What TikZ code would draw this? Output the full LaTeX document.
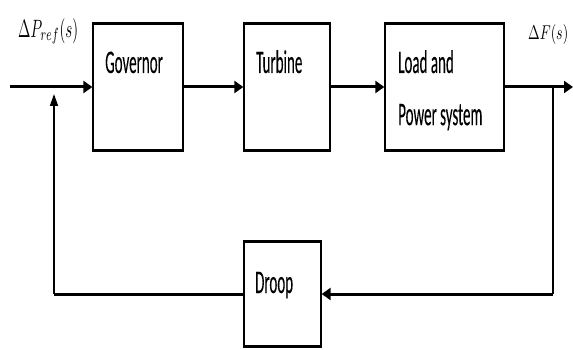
\documentclass[tikz,border=0pt]{standalone}
\usepackage{fontspec}
\setmainfont{Carlito}
\newfontfamily\lblfont[FakeBold=0.2]{Carlito}
\usepackage{graphicx}
\usetikzlibrary{arrows.meta}
\newcommand{\lbltxt}[1]{\scalebox{1.5}[3.3]{\lblfont\fontsize{10}{15.8}\selectfont #1}}
\begin{document}
\begin{tikzpicture}[x=1pt,y=-1pt,
  blk/.style={draw,line width=1.3pt,inner sep=0pt,minimum width=#1},
  conn/.style={line width=3pt,-{Triangle[length=9pt,width=12pt]}},
  plain/.style={line width=3pt},
  vline/.style={line width=1.5pt},
  uparrow/.style={line width=1.5pt,-{Triangle[length=12pt,width=8pt]}},
  txt/.style={inner sep=0pt,anchor=base west}]
\useasboundingbox (0,0) rectangle (573,350);
% blocks
\node[blk=90pt,minimum height=126pt] (gov) at (138,87) {};
\node[blk=86pt,minimum height=126pt] (tur) at (287,87) {};
\node[blk=119pt,minimum height=126pt] (load) at (444.5,87) {};
\node[blk=77pt,minimum height=104pt] (droop) at (282.5,294) {};
% thick top/bottom edges
\foreach \b in {gov,tur,load,droop}{
  \draw[line width=3pt] (\b.north west) -- (\b.north east);
  \draw[line width=3pt] (\b.south west) -- (\b.south east);
}
% texts
\node[txt] (tgov) at (105,73) {\lbltxt{Governor}};
\node[txt] (ttur) at (256,73) {\lbltxt{Turbine}};
\node[txt] (tload) at (398,73) {\lbltxt{\begin{tabular}[t]{@{}l@{}}Load and\\Power system\end{tabular}}};
\node[txt] (tdroop) at (255,293) {\lbltxt{Droop}};
\node[inner sep=0pt,anchor=north west] (lin) at (18,18) {\resizebox*{60pt}{26pt}{$\Delta P_{ref}(s)$}};
\node[inner sep=0pt,anchor=north west] (lout) at (528,24) {\resizebox*{40pt}{20pt}{$\Delta F(s)$}};
% connectors
\coordinate (in) at (10,87);
\coordinate (out) at (573,87);
\coordinate (br) at (553,87);
\coordinate (brd) at (553,294);
\coordinate (fbl) at (54,294);
\coordinate (sum) at (54,87);
\draw[conn] (in) -- (gov.west);
\draw[conn] (gov.east) -- (tur.west);
\draw[conn] (tur.east) -- (load.west);
\draw[conn] (load.east) -- (out);
\draw[vline] (br) -- (brd);
\draw[conn] (brd) -- (droop.east);
\draw[plain] (droop.west) -- (fbl);
\draw[vline] (fbl) -- ([yshift=1.5pt]fbl);
\draw[uparrow,shorten >=7pt] (fbl) -- (sum);
\end{tikzpicture}
\end{document}
